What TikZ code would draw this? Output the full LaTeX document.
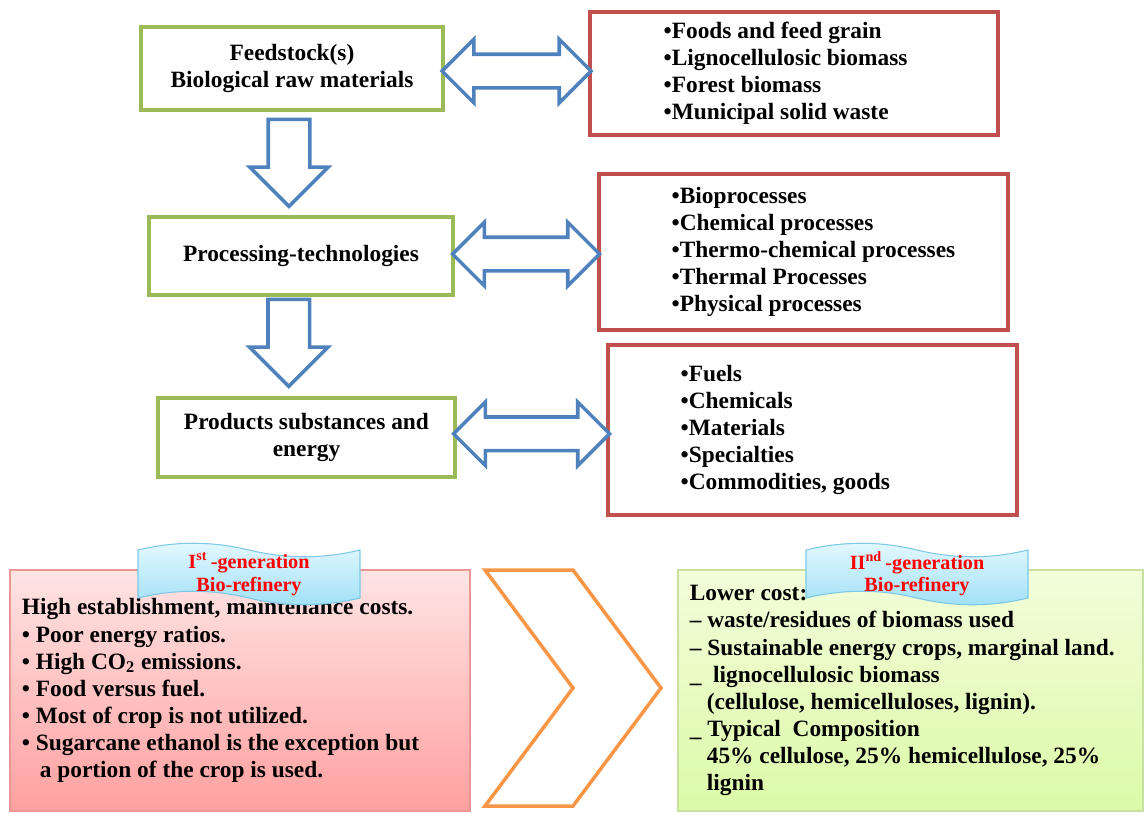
\documentclass[tikz,border=0pt]{standalone}
\usepackage{fontspec}
\setmainfont{Liberation Serif}
\usepackage{tikz}
\usetikzlibrary{shapes.arrows,calc}
\usetikzlibrary{positioning}

\definecolor{boxgreen}{HTML}{9BBB59}
\definecolor{boxred}{HTML}{C0504D}
\definecolor{arrowblue}{HTML}{4F81BD}
\definecolor{chevorange}{HTML}{F79646}
\definecolor{pinktop}{RGB}{255,228,228}
\definecolor{pinkbottom}{RGB}{255,160,160}
\definecolor{pinkline}{RGB}{235,150,150}
\definecolor{limetop}{RGB}{242,253,218}
\definecolor{limebottom}{RGB}{220,250,168}
\definecolor{limeline}{RGB}{200,225,160}
\definecolor{wavetop}{RGB}{228,249,255}
\definecolor{wavebottom}{RGB}{160,224,246}
\definecolor{waveline}{RGB}{125,200,230}

\newcommand\diagfont{\fontsize{13.3}{15.4}\selectfont\bfseries}
\newcommand\flagfont{\fontsize{11.5}{13}\selectfont\bfseries}

\tikzset{flag/.pic={
    \draw[draw=waveline, line width=0.6pt, top color=wavetop, bottom color=wavebottom]
      (-111,-24) .. controls (-74,-33) and (-37,-33) .. (0,-24)
      .. controls (37,-15) and (74,-15) .. (111,-24)
      -- (111,24) .. controls (74,33) and (37,33) .. (0,24)
      .. controls (-37,15) and (-74,15) .. (-111,24) -- cycle;
}}

\begin{document}
\begin{tikzpicture} [x=0.2mm, y=-0.2mm,
    stage/.style={rectangle, draw=boxgreen, line width=2pt, fill=white, align=center, font=\diagfont, inner sep=0pt},
    list/.style={rectangle, draw=boxred, line width=2pt, fill=white, inner sep=0pt},
    listtext/.style={anchor=west, align=left, font=\diagfont, inner sep=0pt},
    downarrow/.style={single arrow, draw=arrowblue, fill=white, line width=2pt, rotate=-90,
      minimum height=17.4mm, single arrow head extend=3.7mm,
      single arrow tip angle=90, inner xsep=0pt, inner ysep=3.8mm},
    twoway/.style={double arrow, draw=arrowblue, fill=white, line width=2pt,
      double arrow head extend=3mm, double arrow tip angle=90, inner xsep=0pt, inner ysep=3mm},
    genbox/.style={rectangle, line width=0.6pt, minimum height=48.2mm, inner sep=0pt},
    gentext/.style={anchor=west, align=left, font=\diagfont, inner sep=0pt},
    flagtext/.style={align=center, font=\flagfont, text=red, inner sep=0pt},
    chevron/.style={draw=chevorange, line width=2pt, fill=white, line join=miter}
    ]
    \useasboundingbox (0,0) rectangle (1145,813);

    %Stages
    \node[stage, minimum width=60.4mm, minimum height=16.6mm] (feed) at (292,68.5) {Feedstock(s)\\Biological raw materials};
    \node[stage, minimum width=60.8mm, minimum height=15.6mm] (proc) at (301,256) {Processing-technologies};
    \node[stage, minimum width=59.4mm, minimum height=15.8mm] (prod) at (306.5,437.5) {Products substances and\\energy};

    %Lists
    \node[list, minimum width=81.6mm, minimum height=24.6mm] (feedlist) at (794,73.5) {};
    \node[list, minimum width=81.8mm, minimum height=31.2mm] (proclist) at (803.5,252) {};
    \node[list, minimum width=81.8mm, minimum height=34mm] (prodlist) at (812.5,430) {};
    \node[listtext] (feedtext) at ([xshift=15mm]feedlist.west) {•Foods and feed grain\\•Lignocellulosic biomass\\•Forest biomass\\•Municipal solid waste};
    \node[listtext] (proctext) at ([xshift=14.8mm]proclist.west) {•Bioprocesses\\•Chemical processes\\•Thermo-chemical processes\\•Thermal Processes\\•Physical processes};
    \node[listtext] (prodtext) at ([xshift=14.8mm]prodlist.west) {•Fuels\\•Chemicals\\•Materials\\•Specialties\\•Commodities, goods};

    %Arrows
    \node[downarrow] (down1) at ([xshift=-1.5mm, yshift=2.2mm]$(feed.south)!0.5!(proc.north)$) {};
    \node[downarrow] (down2) at ([xshift=-3mm, yshift=2.8mm]$(proc.south)!0.5!(prod.north)$) {};
    \node[twoway, minimum height=29.8mm] (both1) at ($(feed.east)!0.5!(feedlist.west)$) {};
    \node[twoway, minimum height=29.4mm] (both2) at ($(proc.east)!0.5!(proclist.west)$) {};
    \node[twoway, minimum height=31.2mm] (both3) at ($(prod.east)!0.5!(prodlist.west)$) {};

    %Generations
    \node[genbox, draw=pinkline, top color=pinktop, bottom color=pinkbottom, minimum width=92mm] (first) at (240,690.5) {};
    \node[genbox, draw=limeline, top color=limetop, bottom color=limebottom, minimum width=93mm] (second) at (910.5,690.5) {};
    \draw[chevron] (485,570) -- (573,570) -- (661,688) -- (573,806) -- (485,806) -- (573,688) -- cycle;

    \node[gentext] (firsttext) at ([xshift=2.4mm]first.west) {High establishment, maintenance costs.\\
      • Poor energy ratios.\\
      • High CO\textsubscript{2} emissions.\\
      • Food versus fuel.\\
      • Most of crop is not utilized.\\
      • Sugarcane ethanol is the exception but\\
      \hspace*{3.6mm}a portion of the crop is used.};
    \node[gentext] (secondtext) at ([xshift=2.4mm]second.west) {Lower cost:\\
      – waste/residues of biomass  used\\
      – Sustainable energy crops, marginal land.\\
      \_\ \ lignocellulosic biomass\\
      \hspace*{3.4mm}(cellulose, hemicelluloses, lignin).\\
      \_ Typical\ \ Composition\\
      \hspace*{3.4mm}45\% cellulose, 25\% hemicellulose, 25\%\\
      \hspace*{3.4mm}lignin};

    \pic at (249,574) {flag};
    \node[flagtext] (firstflag) at (249,574) {I\textsuperscript{st}\,-generation\\Bio-refinery};
    \pic at (917,574) {flag};
    \node[flagtext] (secondflag) at (917,574) {II\textsuperscript{nd}\,-generation\\Bio-refinery};
\end{tikzpicture}
\end{document}
